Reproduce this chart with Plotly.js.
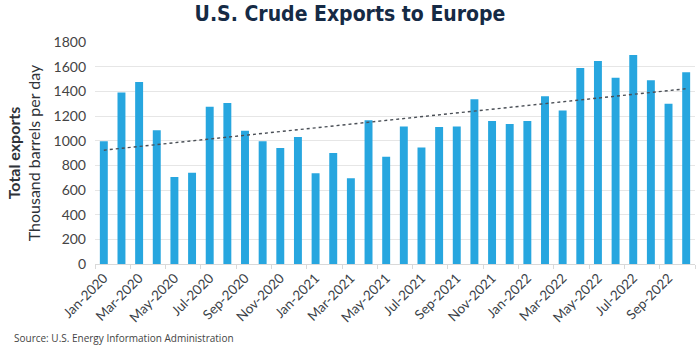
<!DOCTYPE html>
<html>
<head>
<meta charset="utf-8">
<script src="https://cdn.plot.ly/plotly-3.0.1.min.js"></script>
<style>html,body{margin:0;padding:0;background:#fff;}#chart{width:700px;height:349px;}</style>
</head>
<body>
<div id="chart"></div>
<script>
const months = ["Jan-2020","Feb-2020","Mar-2020","Apr-2020","May-2020","Jun-2020","Jul-2020","Aug-2020","Sep-2020","Oct-2020","Nov-2020","Dec-2020",
"Jan-2021","Feb-2021","Mar-2021","Apr-2021","May-2021","Jun-2021","Jul-2021","Aug-2021","Sep-2021","Oct-2021","Nov-2021","Dec-2021",
"Jan-2022","Feb-2022","Mar-2022","Apr-2022","May-2022","Jun-2022","Jul-2022","Aug-2022","Sep-2022","Oct-2022"];
const exportsKbd = [995,1390,1475,1085,705,740,1275,1305,1080,995,940,1030,
735,900,695,1165,870,1115,945,1110,1115,1335,1160,1135,
1160,1360,1245,1590,1645,1510,1695,1490,1300,1555];

// linear trendline (least squares) derived from the data
const n = exportsKbd.length;
let sx=0,sy=0,sxy=0,sxx=0;
exportsKbd.forEach((v,i)=>{sx+=i;sy+=v;sxy+=i*v;sxx+=i*i;});
const slope=(n*sxy-sx*sy)/(n*sxx-sx*sx);
const intercept=(sy-slope*sx)/n;
const trend = exportsKbd.map((v,i)=>intercept+slope*i);

const font = "Lato, 'Noto Sans', sans-serif";
Plotly.newPlot('chart',[
 {type:'bar',x:months,y:exportsKbd,marker:{color:'#27a6df'},hoverinfo:'x+y'},
 {type:'scatter',mode:'lines',x:months,y:trend,line:{color:'#4a4f56',dash:'dot',width:1.4},hoverinfo:'skip'}
],{
 width:700,height:349,
 margin:{l:95,r:5,t:42,b:85},
 paper_bgcolor:'#fff',plot_bgcolor:'#fff',
 showlegend:false,
 bargap:0.55,
 title:{text:'<b>U.S. Crude Exports to Europe</b>',x:0.5,xanchor:'center',y:0.96,yanchor:'middle',
   font:{family:"'DejaVu Sans Condensed', 'Roboto Condensed', sans-serif",size:21,color:'#152a45'}},
 xaxis:{type:'category',tickmode:'linear',tick0:0,dtick:2,tickangle:-45,tickson:'boundaries',
   tickfont:{family:font,size:13.5,color:'#3a3f47'},showgrid:false,
   showline:true,linecolor:'#d9d9d9',linewidth:1,ticks:'outside',ticklen:4,tickcolor:'#d9d9d9',zeroline:false},
 yaxis:{range:[0,1800],dtick:200,tickfont:{family:font,size:14,color:'#444'},
   gridcolor:'#e6e6e6',gridwidth:1,zeroline:false,ticks:'',ticklen:0,ticklabelstandoff:8,
   title:{text:'<b>Total exports</b><br>Thousand barrels per day',standoff:8,
   font:{family:font,size:16,color:'#2e3238'}}},
 annotations:[{text:'Source: U.S. Energy Information Administration',xref:'paper',yref:'paper',
   x:-0.138,y:-0.333,xanchor:'left',yanchor:'middle',showarrow:false,
   font:{family:"'Open Sans', sans-serif",size:10,color:'#444'}}]
},{displayModeBar:false,staticPlot:true});
</script>
</body>
</html>
